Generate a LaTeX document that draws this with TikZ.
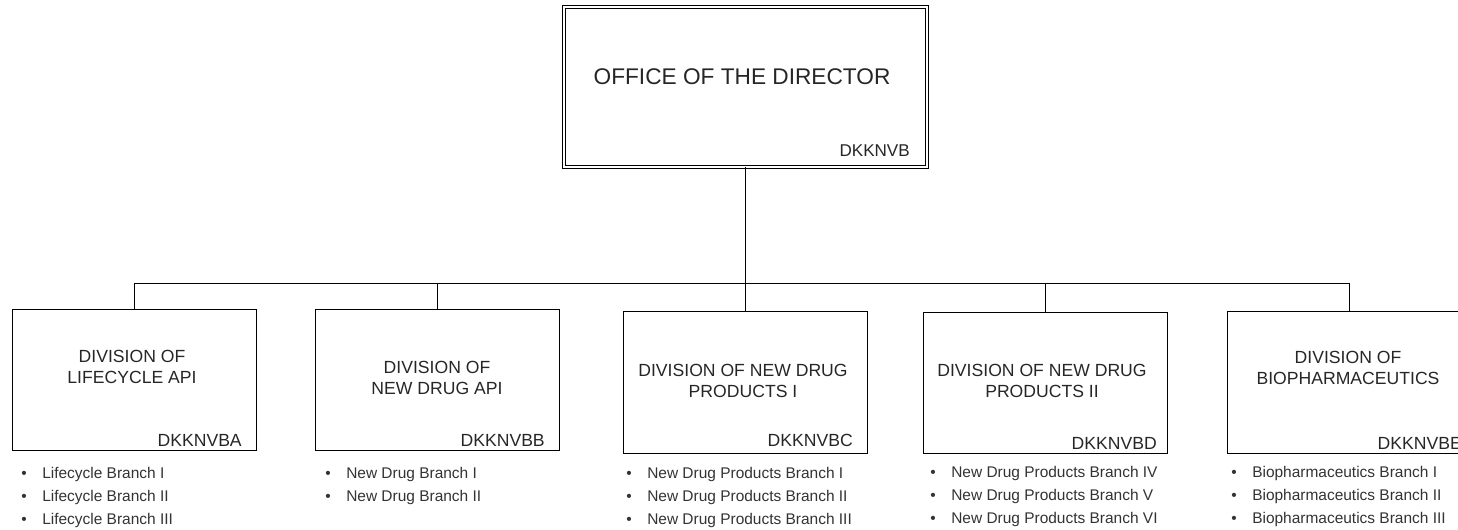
\documentclass[tikz,border=0pt]{standalone}
\usepackage{fontspec}
\setmainfont{Liberation Sans}
\usepackage{tikz}
\usepackage{xcolor}

\tikzset{
  headbox/.style={draw, line width=0.75pt, double, double distance=1.5pt, minimum width=272.25pt, minimum height=119.6pt, inner sep=0pt},
  divbox/.style={draw, line width=0.75pt, minimum width=183pt, minimum height=105.75pt, inner sep=0pt},
  divtitle/.style={align=center, inner sep=0pt, text=black!85, font=\fontsize{13.2}{15.5}\selectfont},
  divcode/.style={anchor=east, inner sep=0pt, text=black!85, font=\fontsize{13.2}{15}\selectfont},
  branches/.style={anchor=north west, align=left, inner sep=0pt, text=black!80, font=\fontsize{11.6}{17.25}\selectfont},
  link/.style={line width=0.75pt},
}
\newcommand{\bul}{\makebox[15.75pt][l]{\textbullet}}

\begin{document}
\begin{tikzpicture}[x=0.75pt,y=0.75pt,yscale=-1,xscale=1]
\clip (0,0) rectangle (1458,530);
%Shape: Double Rectangle
\node [headbox] (dir) at (745,87) {};
%Shape: Rectangle
\node [divbox] (dla) at (134,380) {};
\node [divbox] (dnda) at (437.5,380) {};
\node [divbox] (dndp1) at (745,382.5) {};
\node [divbox] (dndp2) at (1045,383) {};
\node [divbox] (dbp) at (1349,382.5) {};

%Straight Lines
\coordinate (bus) at (745,284);
\draw [link] (dir.south) -- (bus);
\draw [link] (dla.north) -- (dla.north |- bus) -- (dbp.north |- bus) -- (dbp.north);
\draw [link] (dnda.north) -- (dnda.north |- bus);
\draw [link] (dndp1.north) -- (dndp1.north |- bus);
\draw [link] (dndp2.north) -- (dndp2.north |- bus);

% Text Node
\node [divtitle, font=\fontsize{17}{20}\selectfont] (dirt) at (742,77) {OFFICE OF THE DIRECTOR};
\node [divcode, font=\fontsize{12.8}{15}\selectfont] (dirc) at (910,151) {DKKNVB};
% Text Node
\node [divtitle] (tla) at (132,367) {DIVISION OF\\LIFECYCLE API};
\node [divtitle] (tnda) at (437,378) {DIVISION OF\\NEW DRUG API};
\node [divtitle] (tndp1) at (743,381) {DIVISION OF NEW DRUG\\PRODUCTS I};
\node [divtitle] (tndp2) at (1042,381) {DIVISION OF NEW DRUG\\PRODUCTS II};
\node [divtitle] (tbp) at (1348,368) {DIVISION OF\\BIOPHARMACEUTICS};
% Text Node
\node [divcode] (cla) at (242,440) {DKKNVBA};
\node [divcode] (cnda) at (545,440) {DKKNVBB};
\node [divcode] (cndp1) at (853,440) {DKKNVBC};
\node [divcode] (cndp2) at (1157,443) {DKKNVBD};
\node [divcode] (cbp) at (1462,443) {DKKNVBE};
% Text Node
\node [branches] (bla) at (21,467) {\bul Lifecycle Branch I\\\bul Lifecycle Branch II\\\bul Lifecycle Branch III};
\node [branches] (bnda) at (325,467) {\bul New Drug Branch I\\\bul New Drug Branch II};
\node [branches] (bndp1) at (626,467) {\bul New Drug Products Branch I\\\bul New Drug Products Branch II\\\bul New Drug Products Branch III};
\node [branches] (bndp2) at (930,466) {\bul New Drug Products Branch IV\\\bul New Drug Products Branch V\\\bul New Drug Products Branch VI};
\node [branches] (bbp) at (1231,466) {\bul Biopharmaceutics Branch I\\\bul Biopharmaceutics Branch II\\\bul Biopharmaceutics Branch III};
\end{tikzpicture}
\end{document}
